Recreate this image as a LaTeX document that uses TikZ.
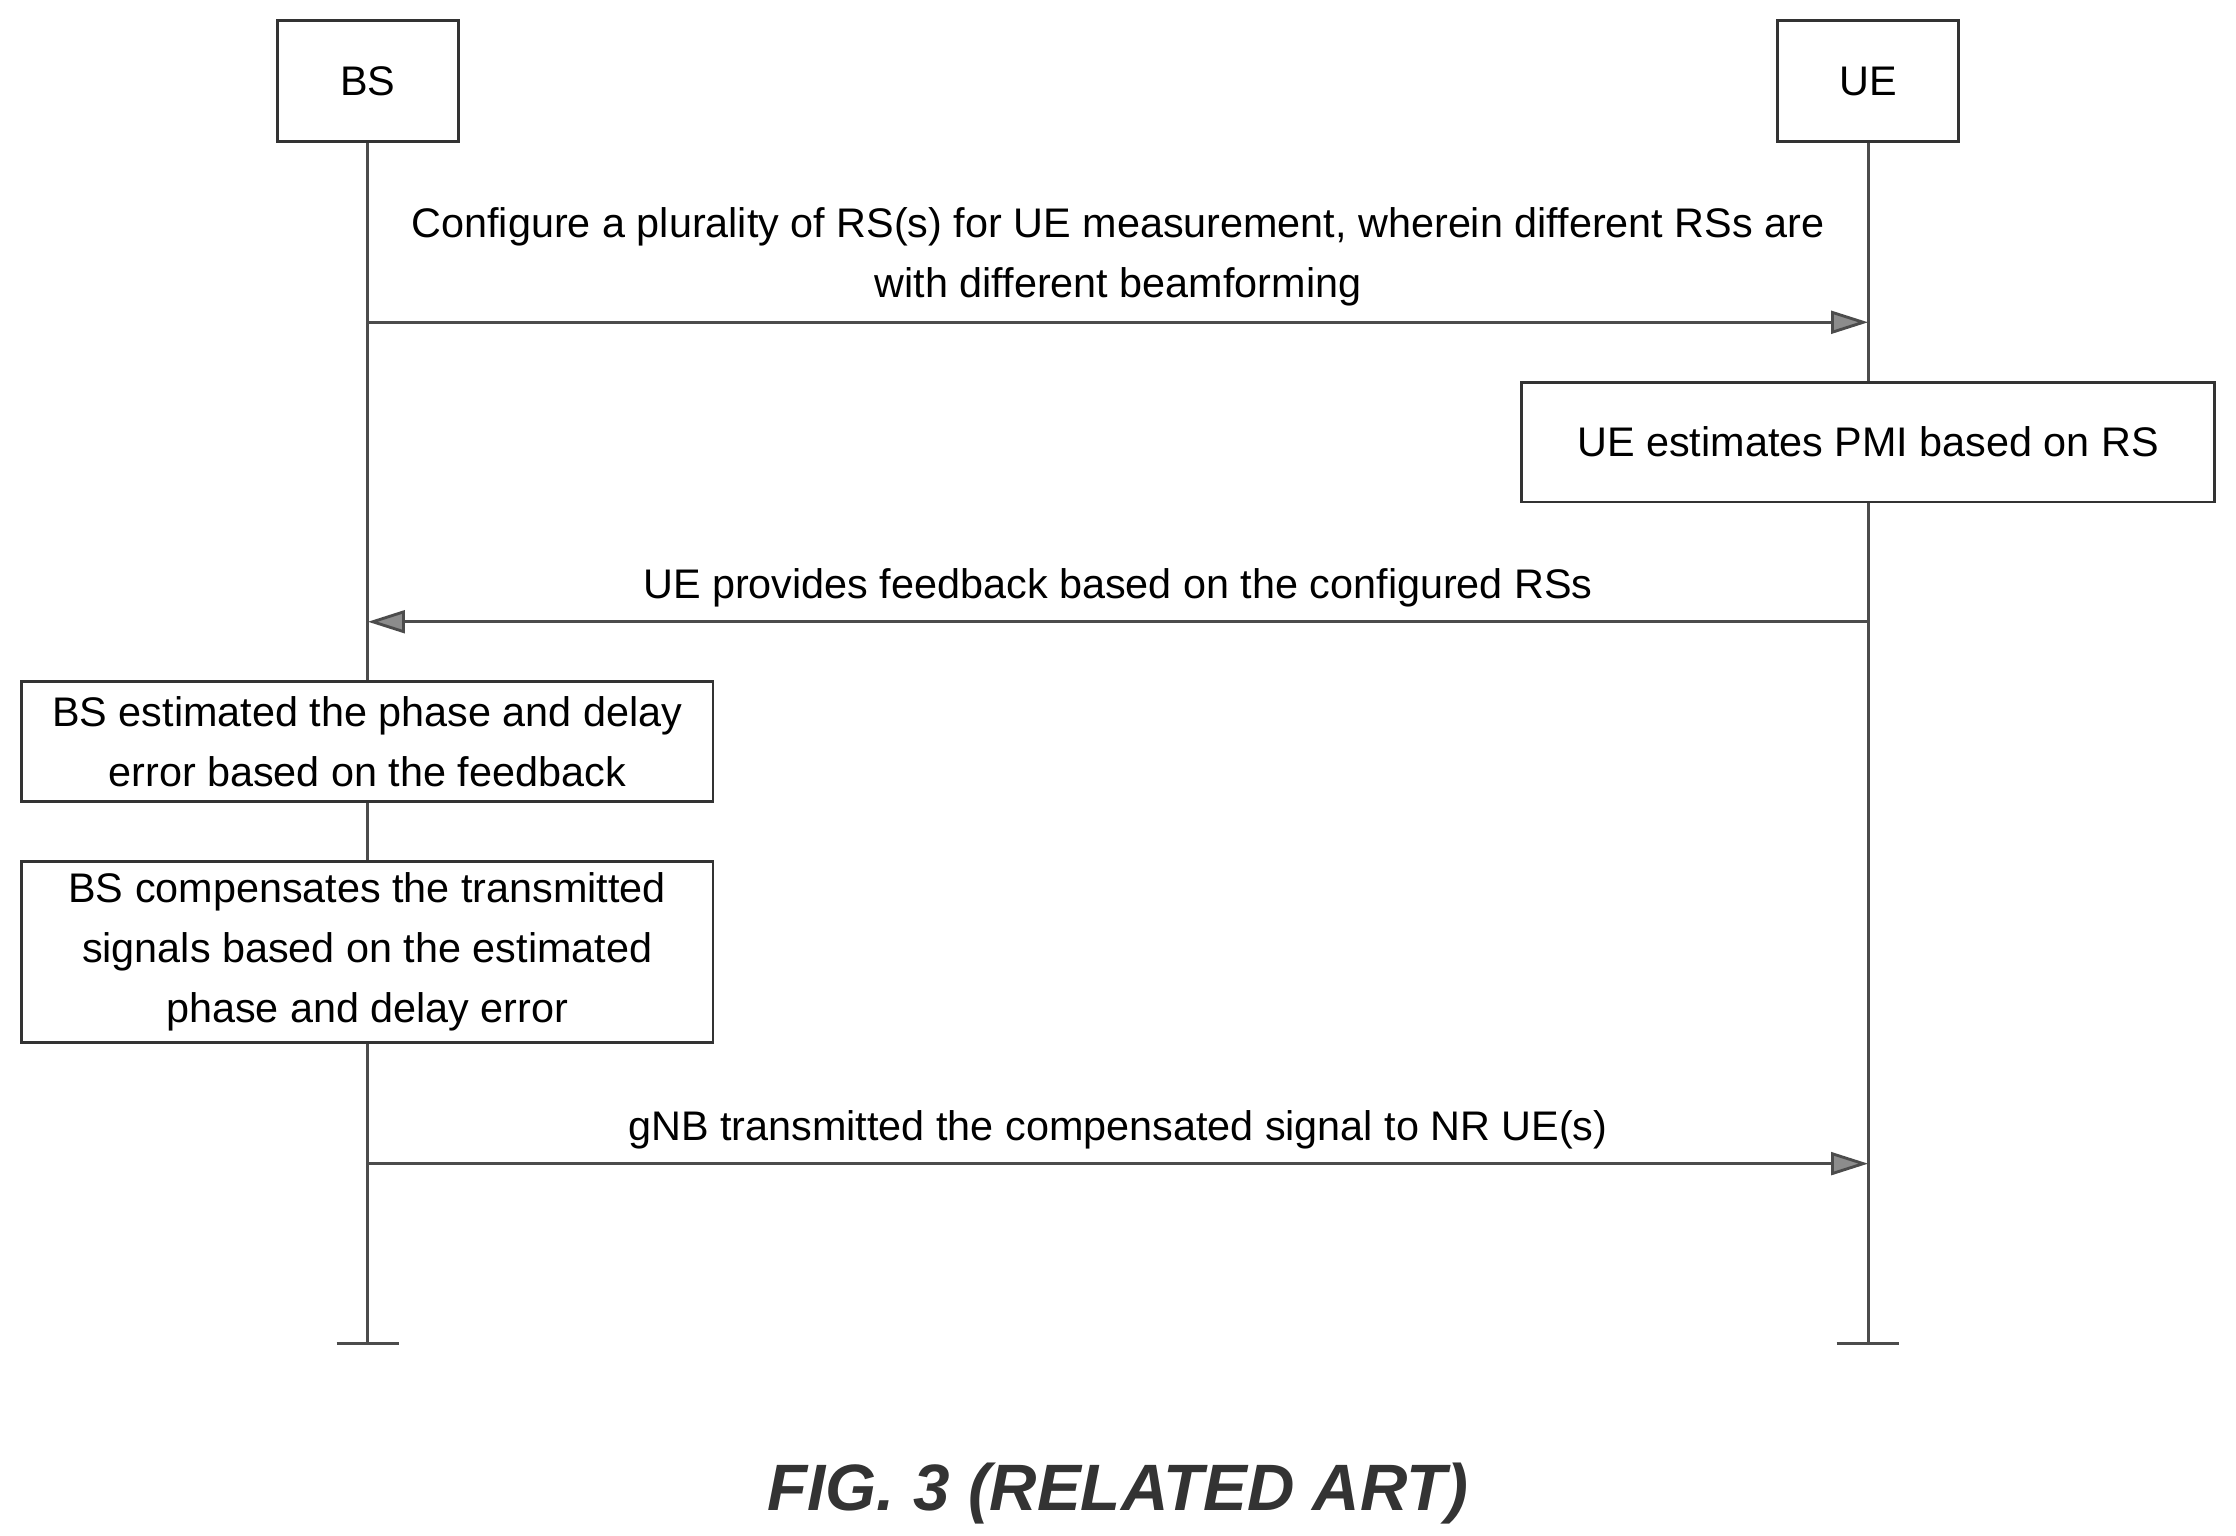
\documentclass[tikz,border=0pt]{standalone}
\usepackage{fontspec}
\setmainfont{Liberation Sans}
\usetikzlibrary{arrows.meta}
\begin{document}
\begin{tikzpicture}[x=1pt,y=-1pt,
 box/.style={draw=black!80,line width=2pt,align=center,inner sep=0pt,font=\fontsize{29}{42}\selectfont},
 life/.style={draw=black!70,line width=2pt},
 msg/.style={draw=black!70,line width=2pt,-{Triangle[length=26pt,width=16pt,fill=black!45]}},
 lbl/.style={font=\fontsize{29}{42}\selectfont,align=center}]
\useasboundingbox (0,0) rectangle (1568,1077);
\node[box,minimum width=127pt,minimum height=85pt] (bs) at (258,57) {BS};
\node[box,minimum width=127pt,minimum height=85pt] (ue) at (1310,57) {UE};
\coordinate (bsend) at (258,942);
\coordinate (ueend) at (1310,942);
\draw[life] (bs.south) -- (bsend);
\draw[life] (ue.south) -- (ueend);
\draw[life] (236,942) -- (280,942);
\draw[life] (1288,942) -- (1332,942);
\coordinate (a1s) at (258,226); \coordinate (a1e) at (1310,226);
\draw[msg] (a1s) -- (a1e);
\node[lbl] (l1) at (784,180) {Configure a plurality of RS(s) for UE measurement, wherein different RSs are\\with different beamforming};
\node[box,fill=white,minimum width=486pt,minimum height=84pt] (pmi) at (1310,310) {UE estimates PMI based on RS};
\coordinate (a2s) at (1310,436); \coordinate (a2e) at (258,436);
\draw[msg] (a2s) -- (a2e);
\node[lbl] (l2) at (784,412) {UE provides feedback based on the configured RSs};
\node[box,fill=white,minimum width=485pt,minimum height=84pt] (b1) at (257.5,520) {BS estimated the phase and delay\\error based on the feedback};
\node[box,fill=white,minimum width=485pt,minimum height=127pt] (b2) at (257.5,667.5) {BS compensates the transmitted\\signals based on the estimated\\phase and delay error};
\coordinate (a3s) at (258,816); \coordinate (a3e) at (1310,816);
\draw[msg] (a3s) -- (a3e);
\node[lbl] (l3) at (784,792) {gNB transmitted the compensated signal to NR UE(s)};
\node[font=\fontsize{46}{54}\selectfont\bfseries\itshape,text=black!80] (cap) at (784,1047) {FIG. 3 (RELATED ART)};
\end{tikzpicture}
\end{document}
